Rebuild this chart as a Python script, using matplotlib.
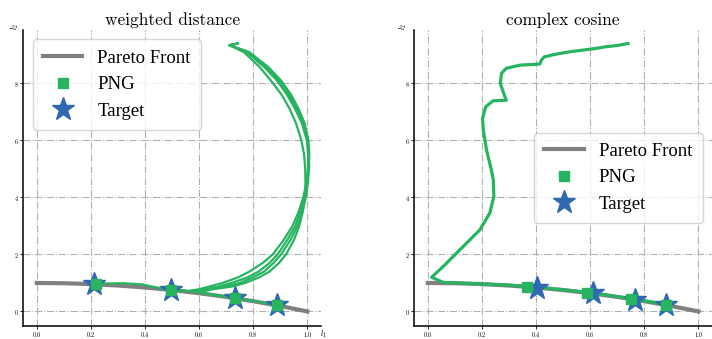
import matplotlib
matplotlib.use("Agg")
import matplotlib.pyplot as plt

plt.rcParams['font.family'] = ['cmr10', 'DejaVu Serif']
plt.rcParams['mathtext.fontset'] = 'cm'
plt.rcParams['axes.formatter.use_mathtext'] = True

# Pareto front
front_x = [0.0, 0.1, 0.2, 0.3, 0.4, 0.5, 0.6, 0.7, 0.8, 0.9, 1.0]
front_y = [1.0, 0.99, 0.96, 0.91, 0.84, 0.75, 0.64, 0.51, 0.36, 0.19, 0.0]

# weighted distance panel
wd_target_x = [0.21, 0.497, 0.734, 0.887]
wd_target_y = [0.96, 0.75, 0.46, 0.21]
wd_png_x = [0.218, 0.497, 0.734, 0.887]
wd_png_y = [0.96, 0.76, 0.47, 0.22]

wd_start_x = [0.743, 0.712]
wd_start_y = [9.40, 9.34]
wd_levels_y = [9.1, 8.58, 8.1, 7.6, 7.1, 6.6, 6.0, 5.5, 5.0, 4.5, 4.0, 3.5,
               3.0, 2.5, 2.0, 1.7, 1.4, 1.2, 1.0, 0.88, 0.78]
wd_traj1_x = [0.775, 0.840, 0.888, 0.925, 0.955, 0.980, 0.998, 1.003, 1.002, 0.996, 0.985, 0.968,
              0.945, 0.912, 0.872, 0.835, 0.786, 0.745, 0.687, 0.640, 0.600]
wd_traj2_x = [0.780, 0.847, 0.895, 0.932, 0.962, 0.985, 1.001, 1.005, 1.004, 0.999, 0.990, 0.975,
              0.955, 0.925, 0.890, 0.860, 0.820, 0.780, 0.720, 0.675, 0.620]
wd_traj3_x = [0.785, 0.855, 0.903, 0.940, 0.968, 0.990, 1.004, 1.007, 1.006, 1.002, 0.994, 0.982,
              0.963, 0.937, 0.903, 0.875, 0.840, 0.800, 0.750, 0.700, 0.635]
wd_traj4_x = [0.765, 0.823, 0.865, 0.905, 0.935, 0.958, 0.978, 0.988, 0.992, 0.993, 0.990, 0.983,
              0.970, 0.950, 0.921, 0.895, 0.860, 0.823, 0.770, 0.725, 0.650]
wd_tail1_x = [0.56, 0.50, 0.45, 0.39, 0.32, 0.25, 0.218]
wd_tail1_y = [0.72, 0.76, 0.82, 0.95, 0.99, 0.98, 0.96]
wd_tail2_x = [0.56, 0.497]
wd_tail2_y = [0.71, 0.76]
wd_tail3_x = [0.58, 0.66, 0.734]
wd_tail3_y = [0.69, 0.57, 0.47]
wd_tail4_x = [0.60, 0.70, 0.80, 0.887]
wd_tail4_y = [0.67, 0.52, 0.37, 0.22]

# complex cosine panel
cc_target_x = [0.405, 0.611, 0.765, 0.882]
cc_target_y = [0.84, 0.64, 0.41, 0.22]
cc_png_x = [0.365, 0.59, 0.75, 0.88]
cc_png_y = [0.87, 0.66, 0.44, 0.24]
cc_traj_x = [0.74, 0.70, 0.66, 0.635, 0.623, 0.525, 0.47, 0.43, 0.42, 0.414, 0.34, 0.29, 0.272,
             0.268, 0.278, 0.29, 0.241, 0.214, 0.202, 0.205, 0.217, 0.235, 0.242, 0.244,
             0.229, 0.192, 0.118, 0.057, 0.014, 0.057, 0.18, 0.30, 0.405, 0.50, 0.611,
             0.70, 0.765, 0.83, 0.882]
cc_traj_y = [9.40, 9.33, 9.29, 9.25, 9.23, 9.11, 9.02, 8.93, 8.82, 8.68, 8.64, 8.53, 8.35,
             8.0, 7.71, 7.41, 7.39, 7.18, 6.77, 6.36, 5.66, 4.96, 4.61, 4.03,
             3.45, 2.86, 2.16, 1.58, 1.20, 1.02, 0.97, 0.92, 0.85, 0.76, 0.65,
             0.52, 0.43, 0.33, 0.24]

GREEN = '#27b35f'
BLUE = '#3068b2'
GRAY = '#808080'

fig = plt.figure(figsize=(7.12, 3.39), dpi=100)
ax1 = fig.add_axes([0.0327, 0.0392, 0.418, 0.872])
ax2 = fig.add_axes([0.5819, 0.0392, 0.418, 0.872])

LEG_FONT = {'family': 'Liberation Serif', 'size': 13.5}


def style(ax, title, l1=True, l2x=-0.03):
    ax.set_xlim(-0.05, 1.05)
    ax.set_ylim(-0.5, 9.87)
    ax.set_xticks([0.0, 0.2, 0.4, 0.6, 0.8, 1.0])
    ax.set_yticks([0, 2, 4, 6, 8])
    ax.tick_params(labelsize=4.5, length=2, width=0.6, pad=1.2)
    for s in ['top', 'right']:
        ax.spines[s].set_visible(False)
    for s in ['left', 'bottom']:
        ax.spines[s].set_linewidth(1.1)
    ax.grid(True, linestyle='-.', color='#b0b0b0', linewidth=0.8)
    ax.set_axisbelow(True)
    ax.set_title(title, fontsize=12.5, pad=4)
    if l1:
        ax.text(0.997, -0.028, r'$l_1$', transform=ax.transAxes, fontsize=6,
                ha='left', va='center')
    ax.text(l2x, 1.0, r'$l_2$', transform=ax.transAxes, fontsize=6,
            ha='center', va='bottom', rotation=90)


order = [0, 2, 1]

# left panel
style(ax1, 'weighted distance', l1=True, l2x=-0.028)
ax1.plot(front_x, front_y, color=GRAY, lw=3, label='Pareto Front', zorder=2)
for tx, tail_x, tail_y in [(wd_traj1_x, wd_tail1_x, wd_tail1_y),
                           (wd_traj2_x, wd_tail2_x, wd_tail2_y),
                           (wd_traj3_x, wd_tail3_x, wd_tail3_y),
                           (wd_traj4_x, wd_tail4_x, wd_tail4_y)]:
    xs = wd_start_x + tx + tail_x
    ys = wd_start_y + wd_levels_y + tail_y
    ax1.plot(xs, ys, color=GREEN, lw=1.6, zorder=3, solid_joinstyle='round')
ax1.plot(wd_target_x, wd_target_y, '*', color=BLUE, markersize=17, label='Target', zorder=4)
ax1.plot(wd_png_x, wd_png_y, 's', color=GREEN, markersize=6.5, label='PNG', zorder=5)
h, l = ax1.get_legend_handles_labels()
ax1.legend([h[i] for i in order], [l[i] for i in order], loc='upper left',
           prop=LEG_FONT, borderpad=0.55, handlelength=2.1, labelspacing=0.5,
           handletextpad=0.8)

# right panel (the l1 label falls outside the canvas in the reference)
style(ax2, 'complex cosine', l1=False, l2x=-0.038)
ax2.plot(front_x, front_y, color=GRAY, lw=3, label='Pareto Front', zorder=2)
ax2.plot(cc_traj_x, cc_traj_y, color=GREEN, lw=2.3, zorder=3, solid_joinstyle='round')
ax2.plot(cc_target_x, cc_target_y, '*', color=BLUE, markersize=17, label='Target', zorder=4)
ax2.plot(cc_png_x, cc_png_y, 's', color=GREEN, markersize=6.5, label='PNG', zorder=5)
h, l = ax2.get_legend_handles_labels()
ax2.legend([h[i] for i in order], [l[i] for i in order], loc='center right',
           prop=LEG_FONT, borderpad=0.55, handlelength=2.1, labelspacing=0.5,
           handletextpad=0.8)

fig.savefig('out.png', dpi=100)
